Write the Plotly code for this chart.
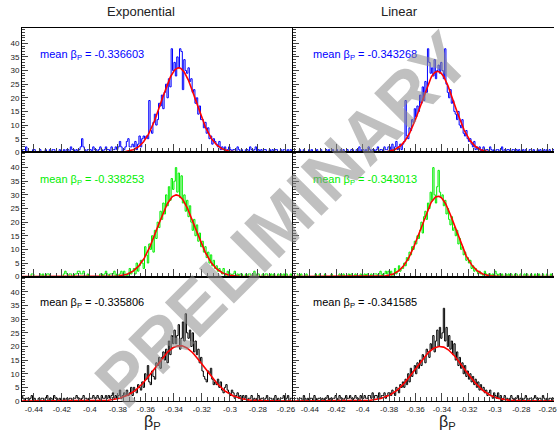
import numpy as np
import plotly.graph_objects as go

# ---------------- data ----------------
bin_lo = -0.45
bin_width = 0.001

exp_blue = [0,1,0,0,2,0,0,0,0,1, 1,0,0,0,1,0,0,0,1,0, 0,1,0,1,1,0,0,0,1,0,
            0,1,0,1,1,0,2,1,1,0, 1,0,1,2,5,2,1,0,1,1, 1,0,2,1,1,0,1,2,1,0,
            1,2,1,1,0,2,1,1,2,1, 2,4,2,0,1,2,4,5,2,2, 3,2,4,1,3,6,2,5,6,5,
            6,5,19,8,7,11,14,10,12,18, 17,21,16,22,25,20,27,24,38,30,
            33,28,35,31,38,37,23,34,30,29, 31,26,27,22,23,18,20,14,17,12,
            12,9,11,7,9,5,6,3,5,4, 3,2,4,1,2,1,2,0,1,2, 1,0,1,1,0,2,1,0,1,0,
            0,1,1,0,2,1,0,1,2,0, 1,0,1,0,1,1,0,0,1,0, 1,0,1,1,0,0,1,0,1,1,
            0,1,0,1,0]
lin_blue = [0,0,1,0,0,1,0,0,0,1, 0,1,0,0,0,1,0,0,1,0, 0,0,1,0,1,0,0,1,0,0,
            1,0,0,1,0,1,0,0,1,0, 0,1,1,0,0,1,0,2,0,1, 1,0,1,0,2,1,0,1,1,0,
            1,2,0,1,1,0,2,1,1,2, 2,1,3,0,2,4,1,2,3,1, 3,4,19,6,5,9,8,12,11,16,
            13,17,15,21,18,24,19,26,22,38, 33,29,31,28,34,27,30,32,29,33,
            30,27,38,25,22,20,23,18,19,15, 14,12,15,10,9,12,7,6,8,5,
            4,5,3,2,4,1,2,1,2,0, 1,2,0,1,1,0,2,1,0,1, 0,1,1,0,1,2,0,1,0,1,
            1,0,0,1,1,0,1,0,1,0, 0,1,0,1,0,0,1,1,0,1, 0,0,1,0,1,0,0,1,0,1,
            0,1,0,0,1]
exp_green = [0,0,0,0,0,0,0,0,1,1, 0,0,0,0,1,0,1,0,0,1, 1,0,0,0,0,0,0,0,0,0,
             0,1,2,1,0,1,1,0,0,1, 1,2,2,1,1,2,0,0,1,0, 0,0,0,0,0,0,0,1,1,0,
             1,2,1,0,1,1,1,2,0,1, 0,1,2,1,2,0,1,0,3,1, 2,3,1,5,2,4,6,5,3,11,
             8,5,12,10,15,9,17,14,20,18, 24,21,27,23,30,26,33,28,36,32,
             35,40,31,38,29,37,27,30,24,28, 22,26,20,17,21,15,19,13,16,11,
             13,9,11,7,9,5,8,4,6,3, 4,2,3,2,1,3,1,0,2,1, 1,0,1,2,0,1,0,1,1,0,
             0,1,0,1,1,0,0,2,0,1, 1,0,0,1,0,1,1,0,0,1, 0,1,0,0,1,0,1,0,1,0,
             1,0,0,1,0]
lin_green = [1,0,0,1,0,0,0,1,0,0, 0,0,0,0,1,0,0,1,0,0, 0,1,0,0,0,0,1,0,0,0,
             0,0,1,0,0,1,0,0,0,1, 0,1,0,0,1,0,0,0,1,0, 0,1,0,1,0,0,1,0,1,1,
             1,0,1,2,0,1,1,2,1,2, 1,2,0,1,3,1,2,4,2,3, 3,5,4,7,6,9,8,11,10,13,
             12,15,14,17,20,16,22,24,21,27, 25,31,28,40,30,27,33,39,31,29,
             30,26,28,23,25,21,19,22,17,18, 15,17,12,14,10,11,8,9,6,7,
             5,6,3,4,2,3,2,1,2,1, 1,0,2,1,0,1,1,0,1,0, 2,1,0,1,0,1,0,0,1,0,
             1,0,1,0,0,1,1,0,0,1, 0,0,1,0,1,0,0,1,0,0, 1,0,0,1,0,0,1,0,0,1,
             0,0,1,0,0]
exp_black = [1,2,1,0,1,1,0,1,2,0, 1,0,0,1,0,1,1,0,1,2, 0,1,1,0,2,1,1,0,1,0,
             0,1,0,1,0,1,1,0,1,1, 2,1,1,0,1,2,1,1,0,1, 1,1,2,1,1,2,1,0,2,1,
             1,2,1,2,1,2,3,1,2,1, 2,4,1,2,3,2,4,2,3,5, 2,5,4,3,6,5,4,7,5,10,
             8,13,7,6,11,9,8,14,13,16, 12,16,18,15,19,14,22,17,24,21,
             26,21,24,28,19,23,29,22,32,25, 23,26,20,25,18,22,17,19,14,16,
             11,9,8,7,11,10,12,8,6,7, 6,8,5,7,4,3,5,6,4,3, 2,4,3,1,2,3,1,2,0,2,
             1,2,0,1,1,2,0,1,0,1, 2,0,1,1,0,1,2,0,1,1, 0,1,2,0,1,0,1,1,2,0,
             1,2,0,1,1]
lin_black = [1,0,1,1,0,2,1,0,1,0, 1,1,0,2,1,0,1,1,0,1, 0,1,1,2,0,1,0,1,1,2,
             1,0,2,1,1,0,1,2,1,1, 2,1,0,1,2,1,1,0,2,1, 1,2,1,1,2,2,1,3,1,2,
             2,1,3,1,2,2,3,1,2,3, 3,2,4,3,2,5,4,3,6,5, 7,5,8,6,10,7,12,9,11,13,
             10,14,12,15,13,17,16,14,19,18, 16,21,19,24,18,22,26,20,27,23,
             25,34,22,27,20,24,19,22,17,21, 15,18,13,16,12,14,10,13,9,11,
             8,10,7,9,6,8,5,7,4,6, 4,5,3,4,2,3,4,2,1,3, 2,1,3,1,2,0,1,2,1,1,
             0,1,2,1,0,1,1,2,0,1, 1,0,1,2,1,0,1,1,0,1, 2,1,0,1,1,0,2,1,0,1,
             0,1,1,0,1]

# Gaussian fit parameters: amplitude, mean, sigma
fit_exp_blue = (31.0, -0.3366, 0.0123)
fit_lin_blue = (29.7, -0.3433, 0.0125)
fit_exp_green = (30.0, -0.3383, 0.0133)
fit_lin_green = (29.5, -0.3430, 0.0130)
fit_exp_black = (20.3, -0.3358, 0.0175)
fit_lin_black = (20.0, -0.3416, 0.0180)

mean_labels = ["-0.336603", "-0.343268", "-0.338253", "-0.343013", "-0.335806", "-0.341585"]
column_titles = ["Exponential", "Linear"]
x_tickvals = [-0.44, -0.42, -0.40, -0.38, -0.36, -0.34, -0.32, -0.30, -0.28, -0.26]
x_ticktext = ["-0.44", "-0.42", "-0.4", "-0.38", "-0.36", "-0.34", "-0.32", "-0.3", "-0.28", "-0.26"]
y_tickvals = [0, 5, 10, 15, 20, 25, 30, 35, 40]
y_ticktext = ["0", "5", "10", "15", "20", "25", "30", "35", "40"]

# ---------------- layout geometry ----------------
W, H = 558, 436
ML, MR, MT, MB = 22, 0, 28, 35
PW, PH = W - ML - MR, H - MT - MB

def px_x(px):
    return (px - ML) / PW

def px_y(py):
    return (H - MB - py) / PH

x_ranges = [[-0.4485, -0.2557], [-0.4528, -0.2552]]
x_domains = [[0, px_x(294)], [px_x(295), 1]]
y_domains = [[2 / 3, 1], [1 / 3, 2 / 3], [0, 1 / 3]]
y_range = [0, 45.6]

hists = [[exp_blue, lin_blue], [exp_green, lin_green], [exp_black, lin_black]]
fits = [[fit_exp_blue, fit_lin_blue], [fit_exp_green, fit_lin_green], [fit_exp_black, fit_lin_black]]
colors = ["#0000ff", "#00ee00", "#000000"]
font = "Liberation Sans, Arial, Helvetica, sans-serif"

fig = go.Figure()
layout = {}
annotations = []

for r in range(3):
    for c in range(2):
        k = r * 2 + c + 1
        xa = "x" if k == 1 else f"x{k}"
        ya = "y" if k == 1 else f"y{k}"
        counts = np.array(hists[r][c], dtype=float)
        edges = bin_lo + bin_width * np.arange(len(counts) + 1)
        ys = np.append(counts, counts[-1])
        fig.add_trace(go.Scatter(x=edges, y=ys, mode="lines", line=dict(shape="hv", color=colors[r], width=1.0),
                                 xaxis=xa, yaxis=ya, showlegend=False, hoverinfo="skip"))
        amp, mu, sig = fits[r][c]
        xf = np.linspace(x_ranges[c][0], x_ranges[c][1], 500)
        yf = amp * np.exp(-0.5 * ((xf - mu) / sig) ** 2)
        fig.add_trace(go.Scatter(x=xf, y=yf, mode="lines", line=dict(color="#ff0000", width=1.6),
                                 xaxis=xa, yaxis=ya, showlegend=False, hoverinfo="skip"))
        xkey = "xaxis" if k == 1 else f"xaxis{k}"
        ykey = "yaxis" if k == 1 else f"yaxis{k}"
        layout[xkey] = dict(domain=x_domains[c], range=x_ranges[c], anchor=ya,
                            showgrid=False, zeroline=False, showline=True, mirror=True,
                            linecolor="#000000", linewidth=1,
                            tickmode="array", tickvals=x_tickvals, ticktext=x_ticktext,
                            showticklabels=(r == 2), ticks="inside", ticklen=8, tickcolor="#444444", tickwidth=1,
                            minor=dict(tickmode="linear", tick0=-0.44, dtick=0.004, ticks="inside",
                                       ticklen=4, tickcolor="#444444", tickwidth=1, showgrid=False),
                            tickfont=dict(family=font, size=8, color="#222222"))
        layout[ykey] = dict(domain=y_domains[r], range=y_range, anchor=xa,
                            showgrid=False, zeroline=False, showline=True, mirror=(c == 0),
                            linecolor="#000000", linewidth=1,
                            tickmode="array", tickvals=y_tickvals, ticktext=y_ticktext,
                            showticklabels=(c == 0), ticks="inside", ticklen=6, tickcolor="#444444", tickwidth=1,
                            minor=dict(tickmode="linear", tick0=0, dtick=1, ticks="inside",
                                       ticklen=3, tickcolor="#444444", tickwidth=1, showgrid=False),
                            tickfont=dict(family=font, size=8, color="#222222"))
        # mean label
        tx = 38 if c == 0 else 313
        ty = [55, 180, 303][r]
        annotations.append(dict(text=f"mean \u03b2<sub>P</sub> = {mean_labels[k - 1]}",
                                x=px_x(tx), y=px_y(ty), xref="paper", yref="paper",
                                xanchor="left", yanchor="middle", showarrow=False,
                                font=dict(family=font, size=11, color=colors[r])))

# column titles
for c, tx in enumerate([142, 402]):
    annotations.append(dict(text=column_titles[c], x=px_x(tx), y=px_y(12), xref="paper", yref="paper",
                            xanchor="center", yanchor="middle", showarrow=False,
                            font=dict(family=font, size=13, color="#222222")))
# axis titles
for tx in [153, 451]:
    annotations.append(dict(text="\u03b2<sub>P</sub>", x=px_x(tx), y=px_y(422), xref="paper", yref="paper",
                            xanchor="center", yanchor="middle", showarrow=False,
                            font=dict(family=font, size=16, color="#222222")))
# watermark
annotations.append(dict(text="<b>PRELIMINARY</b>", x=px_x(284), y=px_y(220), xref="paper", yref="paper",
                        xanchor="center", yanchor="middle", showarrow=False, textangle=-45,
                        font=dict(family=font, size=72, color="rgba(140,140,140,0.55)")))

fig.update_layout(**layout)
fig.update_layout(width=W, height=H, margin=dict(l=ML, r=MR, t=MT, b=MB),
                  paper_bgcolor="white", plot_bgcolor="white", annotations=annotations,
                  showlegend=False)
fig.write_html("out.html", config={"displayModeBar": False},
               post_script="document.body.style.margin='0';document.body.style.padding='0';")
